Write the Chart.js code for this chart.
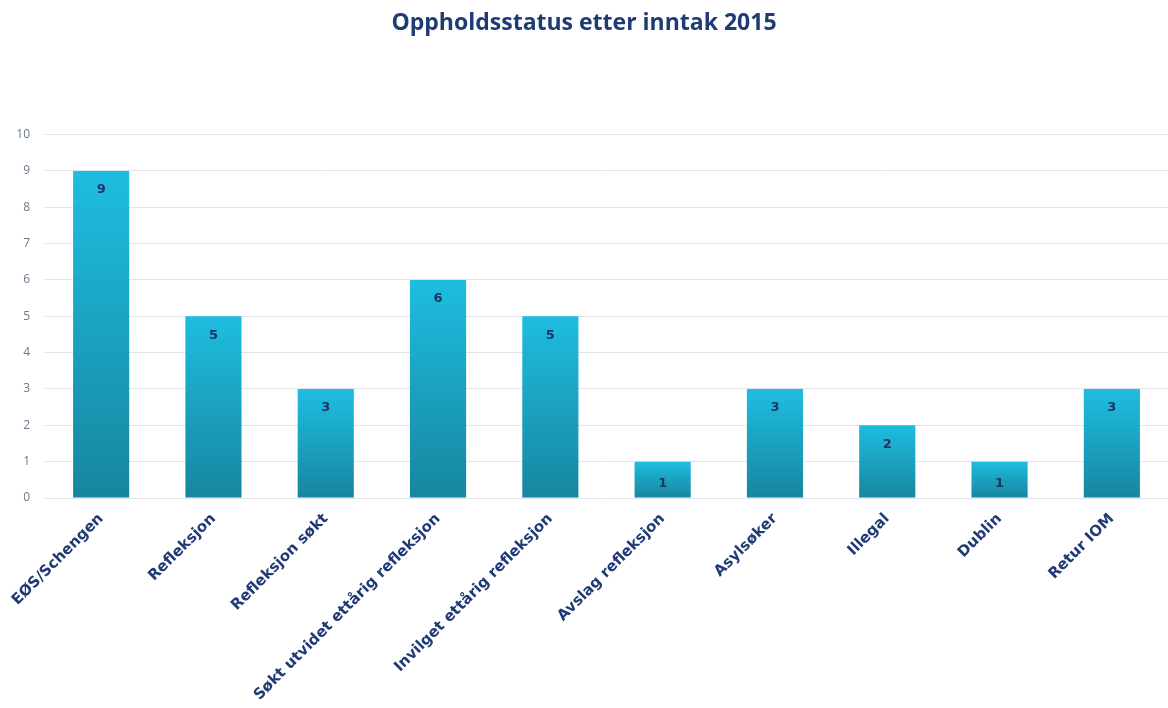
<!DOCTYPE html>
<html>
<head>
<meta charset="utf-8">
<script src="https://cdn.jsdelivr.net/npm/chart.js@4"></script>
<style>
html,body{margin:0;padding:0;background:#fff;}
#wrap{width:1168px;height:708px;position:relative;}
</style>
</head>
<body>
<div id="wrap"><canvas id="c" width="1168" height="708"></canvas></div>
<script>
const categories = ["EØS/Schengen","Refleksjon","Refleksjon søkt","Søkt utvidet ettårig refleksjon","Invilget ettårig refleksjon","Avslag refleksjon","Asylsøker","Illegal","Dublin","Retur IOM"];
const values = [9,5,3,6,5,1,3,2,1,3];
const yTicks = [0,1,2,3,4,5,6,7,8,9,10];
const titleText = "Oppholdsstatus etter inntak 2015";

const valueLabels = {
  id:'valueLabels',
  afterDatasetsDraw(chart){
    const ctx = chart.ctx;
    const meta = chart.getDatasetMeta(0);
    ctx.save();
    ctx.font = 'bold 13px "DejaVu Sans"';
    ctx.fillStyle = '#1d3566';
    ctx.textAlign = 'center';
    ctx.textBaseline = 'middle';
    meta.data.forEach((bar,i)=>{
      const v = chart.data.datasets[0].data[i];
      const top = bar.y;
      const base = bar.base;
      let y = top + 19;
      if (base - top < 40) y = (top + base)/2 + 4;
      ctx.fillText(String(v), bar.x, y);
    });
    ctx.restore();
  }
};

new Chart(document.getElementById('c'), {
  type:'bar',
  data:{
    labels: categories,
    datasets:[{
      data: values,
      barPercentage:0.5,
      categoryPercentage:1.0,
      borderWidth:0,
      backgroundColor(context){
        const chart = context.chart;
        const {ctx, chartArea, scales} = chart;
        if(!chartArea) return '#1aa3c4';
        const v = context.raw;
        const top = scales.y.getPixelForValue(v);
        const bot = scales.y.getPixelForValue(0);
        const g = ctx.createLinearGradient(0, top, 0, bot);
        g.addColorStop(0, '#1ebde0');
        g.addColorStop(1, '#17869f');
        return g;
      }
    }]
  },
  options:{
    responsive:false,
    animation:false,
    layout:{padding:{left:0,right:0,top:0,bottom:0}},
    plugins:{
      legend:{display:false},
      tooltip:{enabled:false},
      title:{
        display:true,
        text:titleText,
        color:'#1f3b73',
        font:{family:'"Open Sans"',size:23,weight:'bold'},
        padding:{top:10,bottom:97}
      }
    },
    scales:{
      x:{
        grid:{display:false},
        border:{display:false},
        ticks:{
          minRotation:45,maxRotation:45,
          color:'#1f3a75',
          font:{family:'"DejaVu Sans"',size:15,weight:'bold'},
          padding:4,
          autoSkip:false
        },
        afterFit(scale){ scale.height = 210; }
      },
      y:{
        min:0,max:10,
        afterBuildTicks(scale){ scale.ticks = yTicks.map(v=>({value:v})); },
        grid:{color:'#e3e4ea',drawTicks:false,lineWidth:1},
        border:{display:false},
        ticks:{
          color:'#6a7890',
          font:{family:'"Open Sans"',size:12},
          padding:15
        },
        afterFit(scale){ scale.width = 45; }
      }
    }
  },
  plugins:[valueLabels]
});
</script>
</body>
</html>
